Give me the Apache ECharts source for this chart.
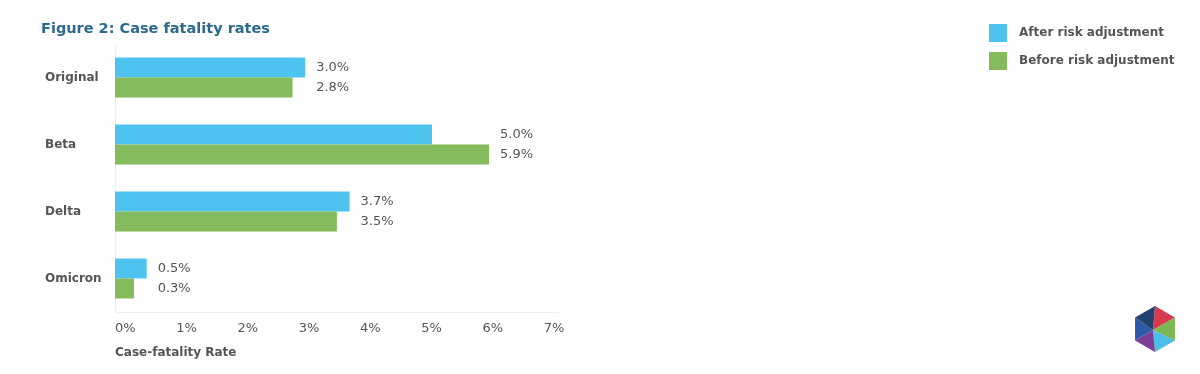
<!DOCTYPE html>
<html>
<head>
<meta charset="utf-8">
<script src="https://cdn.jsdelivr.net/npm/echarts@6/dist/echarts.min.js"></script>
<style>html,body{margin:0;padding:0;background:#fff}#c{width:1200px;height:374px}</style>
</head>
<body>
<div id="c"></div>
<script>
var categories = ['Original', 'Beta', 'Delta', 'Omicron'];
var afterAdj = [3.0, 5.0, 3.7, 0.5];
var beforeAdj = [2.8, 5.9, 3.5, 0.3];
var seriesNames = ['After risk adjustment', 'Before risk adjustment'];
var tickValues = [0, 1, 2, 3, 4, 5, 6, 7];

var GRID_LEFT = 115, GRID_W = 443.8, AX_MAX = 7;
var pxPerUnit = GRID_W / AX_MAX;
var txt = '#555555';
var font = 'DejaVu Sans';

function labelled(vals, other) {
  return vals.map(function (v, i) {
    var m = Math.max(v, other[i]);
    return {
      value: v,
      label: { offset: [(m - v) * pxPerUnit, 0] }
    };
  });
}

var chart = echarts.init(document.getElementById('c'), null, { renderer: 'canvas' });

// hexagon logo
var cx = 1155, cy = 329, R = 23;
var hv = [];
for (var k = 0; k < 6; k++) {
  var a = (-90 + 60 * k) * Math.PI / 180;
  hv.push([cx + R * Math.cos(a), cy + R * Math.sin(a)]);
}
var inner = [cx - 2, cy + 1];
var hexColors = ['#d83a52', '#7cb84f', '#4cbfe6', '#7d3f96', '#2b5aa6', '#23416e'];
var logo = [];
for (var k = 0; k < 6; k++) {
  logo.push({
    type: 'polygon',
    shape: { points: [inner, hv[k], hv[(k + 1) % 6]] },
    style: { fill: hexColors[k] }
  });
}

chart.setOption({
  animation: false,
  title: [
    { text: 'Figure 2: Case fatality rates', left: 36, top: 17,
      textStyle: { fontFamily: font, fontSize: 14.5, fontWeight: 'bold', color: '#2d6a8e' } },
    { text: 'Case-fatality Rate', left: 110, top: 342,
      textStyle: { fontFamily: font, fontSize: 12, fontWeight: 'bold', color: txt } }
  ],
  legend: {
    orient: 'vertical', left: 984, top: 19,
    itemWidth: 18, itemHeight: 18, itemGap: 10, icon: 'rect',
    data: seriesNames,
    textStyle: { fontFamily: font, fontSize: 12, fontWeight: 'bold', color: txt, padding: [0, 0, 0, 7] }
  },
  grid: [
    { left: GRID_LEFT, width: GRID_W, top: 44, height: 268 },
    { left: 125.2, width: 428.8, top: 44, height: 268 }
  ],
  xAxis: [
    { type: 'value', gridIndex: 0, min: 0, max: AX_MAX, interval: 1,
      axisLine: { show: true, lineStyle: { color: '#eeeeee' } },
      axisTick: { show: false }, axisLabel: { show: false }, splitLine: { show: false } },
    { type: 'value', gridIndex: 1, min: tickValues[0], max: tickValues[tickValues.length - 1], interval: 1,
      axisLine: { show: false }, axisTick: { show: false }, splitLine: { show: false },
      axisLabel: { margin: 10, fontFamily: font, fontSize: 13, color: txt,
        formatter: function (v) { return v + '%'; } } }
  ],
  yAxis: [
    { type: 'category', gridIndex: 0, data: categories, inverse: true,
      axisLine: { show: true, lineStyle: { color: '#f0f0f0' } },
      axisTick: { show: false },
      axisLabel: { align: 'left', margin: 70, fontFamily: font, fontSize: 12, fontWeight: 'bold', color: txt } },
    { type: 'category', gridIndex: 1, data: categories, show: false }
  ],
  series: [
    { name: seriesNames[0], type: 'bar', xAxisIndex: 0, yAxisIndex: 0,
      barWidth: 20, barGap: '0%', itemStyle: { color: '#4fc3f0' },
      label: { show: true, position: 'right', distance: 11, fontFamily: font, fontSize: 13, color: txt,
        formatter: function (p) { return p.value.toFixed(1) + '%'; } },
      data: labelled(afterAdj, beforeAdj) },
    { name: seriesNames[1], type: 'bar', xAxisIndex: 0, yAxisIndex: 0,
      barWidth: 20, barGap: '0%', itemStyle: { color: '#85bb5c' },
      label: { show: true, position: 'right', distance: 11, fontFamily: font, fontSize: 13, color: txt,
        formatter: function (p) { return p.value.toFixed(1) + '%'; } },
      data: labelled(beforeAdj, afterAdj) }
  ],
  graphic: [{ type: 'group', children: logo }]
});
</script>
</body>
</html>
